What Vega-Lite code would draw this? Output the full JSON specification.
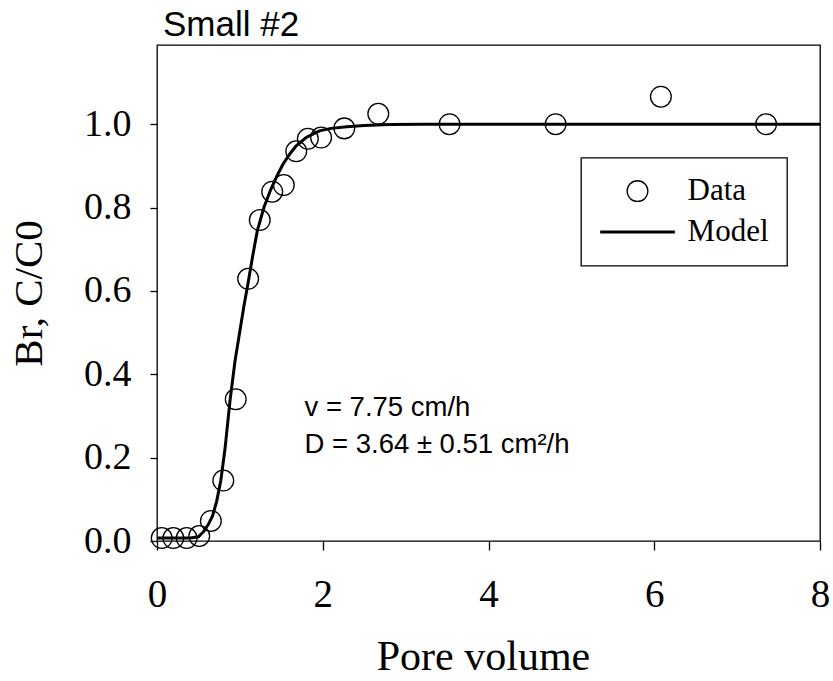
{
  "$schema": "https://vega.github.io/schema/vega-lite/v6.json",
  "width": 663,
  "height": 496,
  "autosize": {"type": "none"},
  "padding": {"left": 157, "top": 45, "right": 13, "bottom": 140},
  "background": "white",
  "title": {"text": "Small #2", "anchor": "start", "frame": "group", "font": "Liberation Sans", "fontSize": 35, "fontWeight": "normal", "baseline": "alphabetic", "offset": 8, "dx": 6, "dy": 34, "color": "black"},
  "config": {
    "view": {"stroke": "black", "strokeWidth": 1.3},
    "legend": {"strokeColor": "black", "strokeWidth": 1.3},
    "axis": {"grid": false, "domain": false, "tickColor": "black", "tickWidth": 1.3, "labelColor": "black", "titleColor": "black", "labelFont": "Liberation Serif", "titleFont": "Liberation Serif", "titleFontWeight": "normal"}
  },
  "datasets": {
    "obs": [
      {"pv": 0.057, "c": 0.007, "series": "Data"},
      {"pv": 0.197, "c": 0.007, "series": "Data"},
      {"pv": 0.358, "c": 0.007, "series": "Data"},
      {"pv": 0.51, "c": 0.012, "series": "Data"},
      {"pv": 0.65, "c": 0.048, "series": "Data"},
      {"pv": 0.8, "c": 0.145, "series": "Data"},
      {"pv": 0.95, "c": 0.34, "series": "Data"},
      {"pv": 1.1, "c": 0.629, "series": "Data"},
      {"pv": 1.24, "c": 0.77, "series": "Data"},
      {"pv": 1.39, "c": 0.838, "series": "Data"},
      {"pv": 1.53, "c": 0.854, "series": "Data"},
      {"pv": 1.68, "c": 0.935, "series": "Data"},
      {"pv": 1.82, "c": 0.965, "series": "Data"},
      {"pv": 1.98, "c": 0.968, "series": "Data"},
      {"pv": 2.26, "c": 0.99, "series": "Data"},
      {"pv": 2.67, "c": 1.025, "series": "Data"},
      {"pv": 3.53, "c": 1.0, "series": "Data"},
      {"pv": 4.81, "c": 1.0, "series": "Data"},
      {"pv": 6.08, "c": 1.066, "series": "Data"},
      {"pv": 7.35, "c": 1.0, "series": "Data"}
    ],
    "model": [
      {"pv": 0.0, "c": 0.007, "series": "Model"},
      {"pv": 0.2, "c": 0.007, "series": "Model"},
      {"pv": 0.4, "c": 0.007, "series": "Model"},
      {"pv": 0.5, "c": 0.01, "series": "Model"},
      {"pv": 0.56, "c": 0.022, "series": "Model"},
      {"pv": 0.62, "c": 0.04, "series": "Model"},
      {"pv": 0.67, "c": 0.06, "series": "Model"},
      {"pv": 0.72, "c": 0.095, "series": "Model"},
      {"pv": 0.77, "c": 0.145, "series": "Model"},
      {"pv": 0.82, "c": 0.22, "series": "Model"},
      {"pv": 0.88, "c": 0.335, "series": "Model"},
      {"pv": 0.94, "c": 0.43, "series": "Model"},
      {"pv": 1.0, "c": 0.504, "series": "Model"},
      {"pv": 1.05, "c": 0.565, "series": "Model"},
      {"pv": 1.1, "c": 0.62, "series": "Model"},
      {"pv": 1.16, "c": 0.69, "series": "Model"},
      {"pv": 1.21, "c": 0.744, "series": "Model"},
      {"pv": 1.29, "c": 0.8, "series": "Model"},
      {"pv": 1.37, "c": 0.842, "series": "Model"},
      {"pv": 1.45, "c": 0.877, "series": "Model"},
      {"pv": 1.52, "c": 0.904, "series": "Model"},
      {"pv": 1.6, "c": 0.928, "series": "Model"},
      {"pv": 1.68, "c": 0.948, "series": "Model"},
      {"pv": 1.8, "c": 0.968, "series": "Model"},
      {"pv": 1.96, "c": 0.984, "series": "Model"},
      {"pv": 2.1, "c": 0.99, "series": "Model"},
      {"pv": 2.29, "c": 0.994, "series": "Model"},
      {"pv": 2.5, "c": 0.997, "series": "Model"},
      {"pv": 2.8, "c": 0.999, "series": "Model"},
      {"pv": 3.2, "c": 1.0, "series": "Model"},
      {"pv": 4.0, "c": 1.0, "series": "Model"},
      {"pv": 5.0, "c": 1.0, "series": "Model"},
      {"pv": 6.0, "c": 1.0, "series": "Model"},
      {"pv": 7.0, "c": 1.0, "series": "Model"},
      {"pv": 8.0, "c": 1.0, "series": "Model"}
    ],
    "notes": [
      {"pv": 1.78, "c": 0.30, "label": "v = 7.75 cm/h"},
      {"pv": 1.78, "c": 0.211, "label": "D = 3.64 ± 0.51 cm²/h"}
    ]
  },
  "encoding": {
    "x": {"field": "pv", "type": "quantitative", "scale": {"domain": [0, 8], "nice": false, "zero": false},
      "axis": {"title": "Pore volume", "values": [0, 2, 4, 6, 8], "format": "d", "tickSize": 9, "labelFontSize": 39, "labelBaseline": "alphabetic", "labelPadding": 56, "labelFlush": false, "titleFontSize": 42, "titleX": 326, "titleY": 128, "titleBaseline": "alphabetic", "titleAlign": "center"}},
    "y": {"field": "c", "type": "quantitative", "scale": {"domain": [0, 1.19], "nice": false, "zero": false},
      "axis": {"title": "Br, C/C0", "values": [0, 0.2, 0.4, 0.6, 0.8, 1.0], "format": ".1f", "tickSize": 7, "labelFontSize": 38, "labelBaseline": "middle", "labelPadding": 19, "labelFlush": false, "titleFontSize": 41, "titleX": -116, "titleY": 248, "titleAngle": -90, "titleBaseline": "alphabetic", "titleAlign": "center"}}
  },
  "layer": [
    {
      "data": {"name": "model"},
      "mark": {"type": "line", "color": "black", "strokeWidth": 3, "clip": false},
      "encoding": {}
    },
    {
      "data": {"name": "obs"},
      "mark": {"type": "point", "filled": false, "stroke": "black", "size": 430, "opacity": 1},
      "encoding": {
        "shape": {"field": "series", "type": "nominal",
          "scale": {"domain": ["Data", "Model"], "range": ["circle", "M-3.6,0H3.6"]},
          "legend": {"title": null, "orient": "none", "legendX": 424, "legendY": 112.6, "padding": 18, "symbolSize": 430, "symbolOffset": 23, "labelOffset": 34.6, "labelFont": "Liberation Serif", "labelFontSize": 31, "labelColor": "black", "rowPadding": 9, "symbolStrokeColor": "black", "symbolFillColor": "transparent", "labelLimit": 300}},
        "strokeWidth": {"field": "series", "type": "nominal",
          "scale": {"domain": ["Data", "Model"], "range": [1.3, 3]},
          "legend": {"title": null, "orient": "none", "legendX": 424, "legendY": 112.6, "padding": 18, "symbolSize": 430, "symbolOffset": 23, "labelOffset": 34.6, "labelFont": "Liberation Serif", "labelFontSize": 31, "labelColor": "black", "rowPadding": 9, "symbolStrokeColor": "black", "symbolFillColor": "transparent", "labelLimit": 300}}
      }
    },
    {
      "data": {"name": "notes"},
      "mark": {"type": "text", "align": "left", "baseline": "alphabetic", "font": "Liberation Sans", "fontSize": 27.5, "color": "black"},
      "encoding": {"text": {"field": "label"}}
    }
  ]
}
